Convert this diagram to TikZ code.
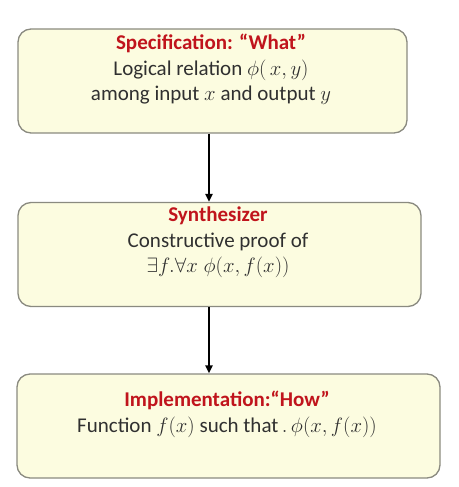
\documentclass[tikz,border=0pt]{standalone}
\usepackage{fontspec}
\setmainfont{Carlito}
\usetikzlibrary{arrows.meta}
\definecolor{boxfill}{HTML}{FCFCE0}
\definecolor{boxline}{HTML}{8A8A80}
\definecolor{titlered}{HTML}{C0141C}
\definecolor{bodytext}{HTML}{303030}
\tikzset{
  stage/.style={draw=boxline, line width=1.3pt, fill=boxfill, rounded corners=13pt, inner sep=0pt},
  stagetext/.style={align=center, text=bodytext, font=\fontsize{21}{25.5}\selectfont, inner sep=0pt, anchor=north},
  flow/.style={line width=2pt, -{Triangle[length=8pt,width=7pt]}},
}
\newcommand{\ttl}[1]{\textcolor{titlered}{\bfseries #1}}
\begin{document}
\begin{tikzpicture}[x=1pt,y=-1pt]
\useasboundingbox (0,0) rectangle (458,487);
\node[stage, minimum width=389pt, minimum height=104pt] (spec) at (212.5,81) {};
\node[stage, minimum width=403pt, minimum height=104pt] (synth) at (219.5,254.5) {};
\node[stage, minimum width=423pt, minimum height=104pt] (impl) at (228.5,426) {};
\node[stagetext] (spect) at (211,34) {\ttl{Specification: “What”}\\Logical relation $\phi(\,x,y)$\\among input $x$ and output $y$};
\node[stagetext] (syntht) at (218,207) {\ttl{Synthesizer}\\Constructive proof of\\$\exists f.\forall x\;\phi(x,f(x))$};
\node[stagetext] (implt) at (227,391) {\ttl{Implementation:“How”}\\Function $f(x)$ such that$\,.\,\phi(x,f(x))$};
\coordinate (ax) at (209,0);
\draw[flow] (spec.south -| ax) -- (synth.north -| ax);
\draw[flow] (synth.south -| ax) -- (impl.north -| ax);
\end{tikzpicture}
\end{document}
